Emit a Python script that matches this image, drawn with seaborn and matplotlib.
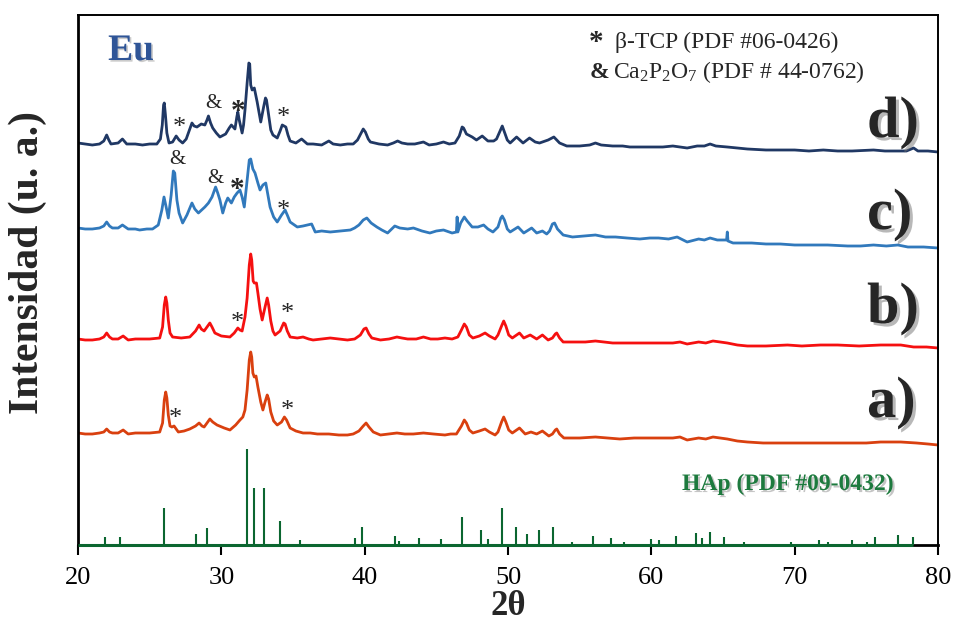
import numpy as np
import pandas as pd
import matplotlib
matplotlib.use("Agg")
import matplotlib.pyplot as plt
import matplotlib.patheffects as pe
import seaborn as sns

# ---------------- data (2theta, intensity a.u., offset-stacked) ----------------
pattern_d = [(20.0, 402), (20.5, 401), (21.0, 400), (21.5, 401), (21.8, 404), (22.0, 410), (22.15, 405),
             (22.3, 401), (22.8, 402), (23.1, 406), (23.4, 401), (24.0, 401), (24.5, 400), (25.0, 401),
             (25.5, 401), (25.75, 406), (25.88, 420), (25.97, 440), (26.02, 442), (26.1, 430), (26.2, 412),
             (26.35, 402), (26.6, 403), (26.85, 409), (27.05, 405), (27.3, 402), (27.55, 406), (27.8, 416),
             (27.95, 422), (28.1, 419), (28.3, 418), (28.6, 421), (28.85, 420), (29.0, 425), (29.1, 429),
             (29.25, 422), (29.4, 417), (29.65, 412), (29.9, 408), (30.3, 411), (30.55, 417), (30.7, 420),
             (30.95, 416), (31.08, 428), (31.15, 433), (31.25, 425), (31.45, 412), (31.55, 420), (31.65, 435),
             (31.8, 462), (31.92, 482), (31.98, 481), (32.05, 460), (32.15, 455), (32.3, 457), (32.4, 450),
             (32.5, 443), (32.75, 423), (32.95, 438), (33.08, 447), (33.15, 445), (33.3, 430), (33.45, 415),
             (33.6, 410), (33.9, 407), (34.1, 414), (34.25, 420), (34.5, 418), (34.65, 410), (34.8, 404),
             (35.2, 402), (35.6, 406), (36.0, 401), (36.4, 401), (37.0, 400), (37.5, 404), (37.8, 401),
             (38.3, 400), (38.8, 401), (39.2, 401), (39.5, 405), (39.75, 412), (39.9, 416), (40.05, 413),
             (40.25, 406), (40.4, 403), (41.0, 401), (41.6, 400), (42.0, 402), (42.3, 404), (42.6, 402),
             (43.0, 401), (43.5, 401), (44.1, 403), (44.5, 400), (45.0, 401), (45.5, 403), (45.9, 401),
             (46.3, 402), (46.6, 409), (46.8, 418), (46.9, 417), (47.1, 411), (47.5, 408), (47.8, 405),
             (48.2, 409), (48.6, 404), (49.0, 404), (49.2, 406), (49.45, 414), (49.6, 419), (49.75, 413),
             (49.95, 405), (50.15, 402), (50.6, 408), (51.05, 402), (51.5, 407), (51.9, 403), (52.2, 402),
             (52.8, 405), (53.2, 408), (53.6, 402), (54.1, 399), (55.0, 399), (55.7, 400), (56.1, 402),
             (56.5, 400), (57.3, 399), (58.0, 399), (58.5, 398), (59.3, 398), (60.0, 398), (60.8, 398),
             (61.5, 399), (62.0, 398), (62.5, 397), (63.2, 399), (63.7, 399), (64.1, 401), (64.5, 399),
             (65.3, 398), (66.0, 397), (66.7, 396), (68.0, 395), (69.0, 395), (70.0, 395), (71.0, 394),
             (72.0, 395), (73.0, 394), (74.0, 394), (75.5, 395), (76.3, 394), (77.0, 394), (77.8, 394),
             (78.3, 397), (78.6, 394), (79.3, 394), (80.0, 393)]

pattern_c = [(20.0, 317), (20.5, 316), (21.0, 316), (21.5, 317), (21.8, 319), (22.0, 323), (22.2, 319),
             (22.4, 317), (22.8, 317), (23.1, 320), (23.5, 316), (24.0, 316), (24.3, 315), (24.8, 316),
             (25.2, 316), (25.6, 320), (25.85, 335), (26.0, 348), (26.15, 338), (26.3, 327), (26.5, 350),
             (26.65, 374), (26.75, 372), (26.9, 345), (27.05, 332), (27.3, 322), (27.6, 330), (27.95, 342),
             (28.15, 336), (28.4, 332), (28.85, 338), (29.1, 342), (29.35, 348), (29.6, 358), (29.75, 352),
             (29.9, 345), (30.1, 332), (30.3, 342), (30.45, 347), (30.7, 342), (30.9, 348), (31.1, 352),
             (31.3, 355), (31.45, 348), (31.6, 338), (31.8, 365), (31.95, 385), (32.05, 386), (32.2, 376),
             (32.35, 372), (32.55, 362), (32.7, 355), (32.9, 360), (33.1, 362), (33.25, 350), (33.4, 338),
             (33.65, 328), (33.9, 323), (34.2, 330), (34.45, 335), (34.6, 330), (34.8, 323), (35.3, 318),
             (35.7, 319), (36.0, 320), (36.3, 321), (36.55, 313), (37.0, 314), (37.6, 313), (38.3, 314),
             (39.0, 315), (39.3, 317), (39.6, 320), (39.9, 325), (40.15, 327), (40.45, 322), (40.85, 318),
             (41.2, 315), (41.6, 312), (42.1, 319), (42.45, 317), (43.0, 316), (43.4, 317), (44.0, 314),
             (44.55, 312), (45.0, 314), (45.5, 315), (46.1, 312), (46.4, 313), (46.45, 328), (46.5, 313),
             (46.7, 322), (46.95, 328), (47.15, 324), (47.5, 318), (47.9, 318), (48.3, 320), (48.6, 316),
             (48.95, 313), (49.3, 318), (49.5, 327), (49.6, 329), (49.75, 325), (49.95, 316), (50.15, 313),
             (50.7, 318), (51.1, 312), (51.65, 317), (52.0, 312), (52.4, 314), (52.7, 311), (52.9, 314),
             (53.1, 321), (53.25, 322), (53.45, 316), (53.85, 310), (54.5, 308), (55.3, 309), (56.1, 310),
             (56.8, 308), (57.5, 308), (58.3, 307), (59.2, 306), (59.9, 307), (60.5, 307), (61.2, 306),
             (61.8, 308), (62.5, 303), (63.3, 306), (63.7, 305), (64.1, 307), (64.6, 305), (65.0, 305),
             (65.25, 305), (65.3, 313), (65.35, 304), (65.7, 302), (66.3, 302), (67.0, 302), (68.0, 301),
             (69.0, 301), (70.0, 300), (71.0, 300), (72.3, 300), (73.7, 299), (74.6, 299), (75.5, 300),
             (76.4, 299), (77.2, 300), (77.9, 298), (79.0, 298), (80.0, 297)]

pattern_b = [(20.0, 206), (20.5, 205), (21.0, 205), (21.5, 206), (21.8, 208), (22.0, 212), (22.2, 208),
             (22.4, 206), (22.8, 206), (23.15, 209), (23.5, 205), (24.0, 206), (24.3, 206), (25.0, 206),
             (25.7, 207), (25.9, 218), (26.02, 240), (26.12, 248), (26.2, 242), (26.3, 225), (26.42, 212),
             (26.6, 208), (27.2, 207), (27.8, 208), (28.2, 214), (28.45, 220), (28.6, 216), (28.8, 214),
             (29.05, 219), (29.2, 222), (29.35, 218), (29.55, 212), (30.0, 209), (30.6, 208), (30.9, 212),
             (31.15, 217), (31.3, 215), (31.45, 214), (31.65, 228), (31.8, 247), (31.95, 280), (32.05, 291),
             (32.12, 285), (32.22, 264), (32.3, 262), (32.45, 262), (32.55, 252), (32.7, 236), (32.85, 225),
             (33.05, 238), (33.2, 247), (33.3, 240), (33.45, 224), (33.6, 214), (33.75, 210), (34.1, 214),
             (34.35, 222), (34.45, 221), (34.6, 214), (34.8, 208), (35.3, 207), (35.7, 208), (36.1, 206),
             (36.4, 205), (37.0, 206), (37.6, 207), (38.2, 206), (38.8, 205), (39.3, 206), (39.7, 210),
             (39.95, 216), (40.1, 217), (40.3, 211), (40.5, 207), (41.1, 205), (41.7, 206), (42.25, 208),
             (42.6, 207), (43.0, 206), (43.6, 206), (44.1, 208), (44.6, 206), (45.1, 206), (45.6, 207),
             (46.1, 206), (46.5, 208), (46.75, 215), (46.95, 221), (47.1, 218), (47.3, 210), (47.55, 207),
             (48.0, 209), (48.4, 212), (48.7, 209), (49.1, 206), (49.3, 210), (49.55, 219), (49.7, 224),
             (49.85, 219), (50.05, 210), (50.3, 207), (50.8, 212), (51.1, 207), (51.55, 210), (52.0, 206),
             (52.4, 210), (52.8, 205), (53.1, 207), (53.3, 211), (53.4, 212), (53.6, 207), (53.85, 203),
             (54.6, 203), (55.4, 203), (56.1, 204), (56.7, 203), (57.3, 202), (58.5, 202), (59.7, 202),
             (60.8, 202), (61.5, 202), (62.0, 203), (62.5, 201), (63.3, 203), (63.8, 202), (64.3, 204),
             (64.8, 203), (65.3, 202), (66.0, 200), (66.7, 199), (68.0, 199), (69.5, 200), (70.5, 199),
             (71.8, 200), (73.0, 200), (74.5, 199), (76.0, 200), (77.4, 200), (78.3, 198), (79.2, 198),
             (80.0, 197)]

pattern_a = [(20.0, 112), (20.5, 111), (21.0, 111), (21.5, 112), (21.8, 113), (22.0, 116), (22.2, 113),
             (22.4, 112), (22.8, 112), (23.15, 115), (23.5, 111), (24.0, 112), (24.3, 112), (25.0, 112),
             (25.7, 113), (25.9, 122), (26.02, 145), (26.12, 153), (26.2, 147), (26.3, 130), (26.42, 119),
             (26.55, 118), (26.7, 119), (26.85, 116), (27.0, 113), (27.4, 114), (27.8, 116), (28.2, 119),
             (28.45, 122), (28.65, 119), (28.8, 118), (29.05, 123), (29.2, 126), (29.4, 123), (29.7, 120),
             (30.2, 117), (30.6, 115), (31.0, 120), (31.3, 125), (31.5, 128), (31.65, 135), (31.8, 155),
             (31.95, 185), (32.05, 193), (32.12, 188), (32.2, 172), (32.3, 168), (32.42, 169), (32.55, 158),
             (32.75, 143), (32.9, 135), (33.05, 143), (33.2, 150), (33.3, 146), (33.45, 133), (33.65, 124),
             (33.9, 120), (34.2, 123), (34.4, 128), (34.55, 125), (34.8, 117), (35.2, 114), (35.7, 112),
             (36.2, 112), (36.7, 111), (37.5, 111), (38.2, 110), (38.8, 110), (39.2, 111), (39.6, 114),
             (39.9, 119), (40.1, 122), (40.3, 118), (40.6, 113), (41.1, 110), (41.7, 111), (42.25, 112),
             (42.8, 111), (43.4, 111), (44.1, 112), (44.8, 111), (45.6, 110), (46.0, 111), (46.4, 111),
             (46.75, 119), (46.95, 125), (47.1, 122), (47.3, 115), (47.55, 112), (48.0, 114), (48.4, 116),
             (48.7, 113), (49.1, 110), (49.3, 113), (49.55, 123), (49.7, 128), (49.85, 123), (50.05, 115),
             (50.3, 112), (50.8, 117), (51.2, 111), (51.6, 113), (52.0, 111), (52.4, 114), (52.85, 109),
             (53.1, 111), (53.3, 115), (53.4, 116), (53.6, 111), (53.9, 107), (55.0, 107), (56.1, 108),
             (57.0, 107), (57.8, 106), (58.8, 107), (59.7, 107), (60.8, 107), (61.5, 107), (62.0, 108),
             (62.5, 105), (63.3, 107), (63.8, 106), (64.3, 108), (64.8, 107), (65.3, 106), (66.0, 104),
             (66.7, 103), (67.8, 102), (69.0, 102), (70.5, 102), (72.0, 102), (73.7, 102), (75.0, 102),
             (76.0, 103), (77.4, 103), (78.5, 102), (79.3, 101), (80.0, 100)]

# HAp reference (PDF #09-0432) stick pattern
hap_pos = [21.9, 22.9, 25.4, 25.98, 28.2, 29.0, 31.79, 32.26, 32.98, 34.1, 35.5, 39.3, 39.84, 40.45,
           42.1, 42.4, 43.8, 44.35, 45.35, 46.8, 48.1, 48.6, 49.56, 50.54, 51.35, 52.17, 53.17, 54.45,
           55.9, 57.17, 58.1, 59.96, 60.54, 61.73, 63.1, 63.5, 64.1, 65.08, 66.47, 69.73, 71.7, 72.36,
           74.03, 75.03, 75.6, 77.2, 78.25]
hap_int = [8, 8, 1, 37, 11, 17, 96, 57, 57, 24, 5, 7, 18, 1,
           9, 4, 7, 1, 6, 28, 15, 6, 37, 18, 11, 15, 18, 3,
           9, 7, 3, 6, 5, 9, 12, 7, 13, 8, 3, 3, 5, 3,
           5, 3, 8, 10, 8]

# phase markers: symbol, 2theta, intensity level
mark_sym = ["*", "&", "*", "*", "&", "&", "*", "*", "*", "*", "*", "*"]
mark_x = [27.05, 29.42, 31.16, 34.3, 26.9, 29.56, 31.1, 34.3, 31.1, 34.58, 26.77, 34.58]
mark_y = [426, 444, 443, 436, 388, 369, 365, 343, 231, 240, 135, 143]
mark_bold = [False, False, True, False, False, False, True, False, False, False, False, False]

sample_labels = ["a)", "b)", "c)", "d)"]
label_y = [128, 222, 316, 408]
colors = {"a)": "#D9400F", "b)": "#F51010", "c)": "#3179BC", "d)": "#203864"}

# ---------------- build long-form table ----------------
rows = []
for lab, pat in zip(sample_labels, [pattern_a, pattern_b, pattern_c, pattern_d]):
    for x, y in pat:
        rows.append({"2theta": x, "I": y, "sample": lab})
df = pd.DataFrame(rows)

sns.set_theme(style="white")
plt.rcParams["font.family"] = ["Liberation Serif", "DejaVu Serif"]
plt.rcParams["mathtext.fontset"] = "custom"
plt.rcParams["mathtext.rm"] = "Liberation Serif"
plt.rcParams["mathtext.it"] = "Liberation Serif:italic"
plt.rcParams["mathtext.bf"] = "Liberation Serif:bold"

fig = plt.figure(figsize=(9.56, 6.24), dpi=100)
ax = fig.add_axes([78 / 956, 79 / 624, 860 / 956, 530 / 624])

sns.lineplot(data=df, x="2theta", y="I", hue="sample", palette=colors, estimator=None,
             sort=True, linewidth=2.0, legend=False, ax=ax)

green = "#0B6630"
ax.vlines(hap_pos, 0, hap_int, color=green, linewidth=1.5, zorder=3)
ax.hlines(0, 20, max(hap_pos), color=green, linewidth=2.2, zorder=4, clip_on=False)

for s, x, y, b in zip(mark_sym, mark_x, mark_y, mark_bold):
    if s == "*":
        ax.annotate(s, xy=(x, y), xytext=(0, -6.5), textcoords="offset points", ha="center",
                    va="center", fontsize=21 if b else 19, fontweight="bold" if b else "normal")
    else:
        ax.annotate(s, xy=(x, y), xytext=(0, -1.5), textcoords="offset points", ha="center",
                    va="center", fontsize=15)

shadow = [pe.SimplePatchShadow(offset=(2.2, -2.2), shadow_rgbFace="0.45", alpha=0.5), pe.Normal()]
for lab, y in zip(sample_labels, label_y):
    ax.text(75.05, y, lab, fontsize=42, fontweight="bold", ha="left", va="baseline",
            path_effects=shadow, zorder=5)

ax.text(22.1, 485, "Eu", fontsize=27, fontweight="bold", color="#2F5597", ha="left", va="baseline",
        path_effects=[pe.SimplePatchShadow(offset=(1.2, -1.2), shadow_rgbFace="0.6", alpha=0.5), pe.Normal()])

ax.text(56.15, 503, "*", fontsize=21, fontweight="bold", ha="center", va="center")
ax.text(57.47, 497, "β-TCP (PDF #06-0426)", fontsize=17, ha="left", va="baseline")
ax.text(55.72, 467, "&", fontsize=17, fontweight="bold", ha="left", va="baseline")
ax.text(57.33, 467, r"Ca$_\mathrm{2}$P$_\mathrm{2}$O$_\mathrm{7}$ (PDF # 44-0762)", fontsize=17,
        ha="left", va="baseline")

ax.text(62.14, 55, "HAp (PDF #09-0432)", fontsize=17, fontweight="bold", color="#1D7A3E",
        ha="left", va="baseline",
        path_effects=[pe.SimplePatchShadow(offset=(1.5, -1.5), shadow_rgbFace="0.55", alpha=0.5), pe.Normal()])

ax.set_xlim(20, 80)
ax.set_ylim(0, 530)
ax.set_xticks([20, 30, 40, 50, 60, 70, 80])
ax.set_yticks([])
ax.set_xlabel("")
ax.set_ylabel("")
ax.tick_params(axis="x", direction="out", length=7, width=1.5, labelsize=19, pad=9, colors="black",
               bottom=True)
for side, lw in [("left", 2.0), ("bottom", 2.0), ("top", 1.4), ("right", 1.4)]:
    ax.spines[side].set_visible(True)
    ax.spines[side].set_color("black")
    ax.spines[side].set_linewidth(lw)

fig.text(508 / 956, 0.002, "2θ", fontsize=25, fontweight="bold", ha="center", va="bottom")
fig.text(28 / 956, 1 - 262 / 624, "Intensidad (u. a.)", fontsize=30, fontweight="bold",
         rotation=90, ha="center", va="center")

fig.savefig("out.png", dpi=100)
